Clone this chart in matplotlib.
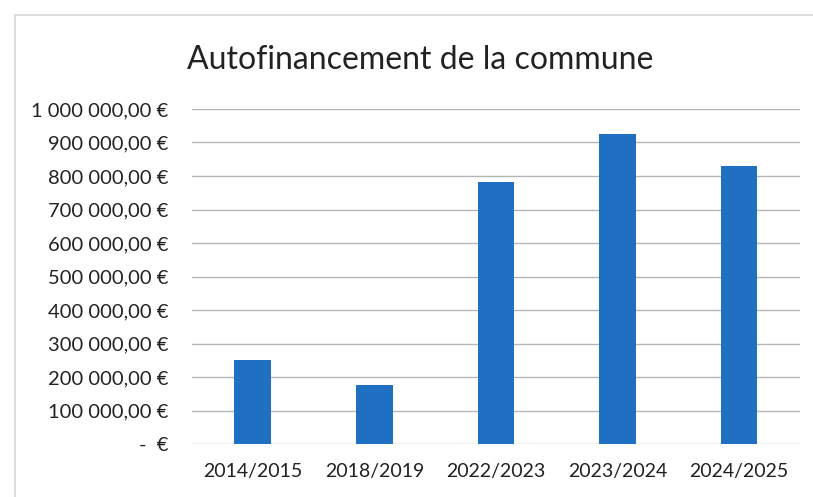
import matplotlib
matplotlib.use("Agg")
import matplotlib.pyplot as plt
from matplotlib.ticker import FuncFormatter, MultipleLocator
from matplotlib.patches import Rectangle

years = ["2014/2015", "2018/2019", "2022/2023", "2023/2024", "2024/2025"]
montants = [250000, 175000, 782000, 925000, 831000]

plt.rcParams['font.family'] = ['Lato', 'DejaVu Sans']


def euro(v, pos):
    if v == 0:
        return "-  €"
    s = f"{v:,.2f}".replace(",", " ").replace(".", ",")
    return s + " €"


fig = plt.figure(figsize=(8.13, 4.97), dpi=100)
ax = fig.add_axes([0.236, 0.1066, 0.748, 0.6741])

# faint chart frame from the scan
fig.patches.append(Rectangle((0.018, -0.1), 1.2, 1.07, transform=fig.transFigure,
                             fill=False, edgecolor='#d8d8d8', lw=1.2))

x = range(len(years))
ax.bar(x, montants, width=0.3, color='#1f6fc2', zorder=3)

ax.set_ylim(0, 1000000)
ax.set_xlim(-0.5, len(years) - 0.5)
ax.yaxis.set_major_locator(MultipleLocator(100000))
ax.yaxis.set_major_formatter(FuncFormatter(euro))
ax.grid(axis='y', color='#b5b5b5', lw=1, zorder=0)
ax.set_xticks(list(x))
ax.set_xticklabels(years)
ax.tick_params(axis='both', length=0, labelsize=14.5, colors='#222222')
ax.tick_params(axis='x', pad=14, labelsize=14)
ax.tick_params(axis='y', pad=17)
for s in ax.spines.values():
    s.set_visible(False)

fig.text(0.517, 0.88, "Autofinancement de la commune", ha='center', va='center',
         fontsize=23, color='#222222')

fig.savefig("out.png", dpi=100, facecolor='white')
